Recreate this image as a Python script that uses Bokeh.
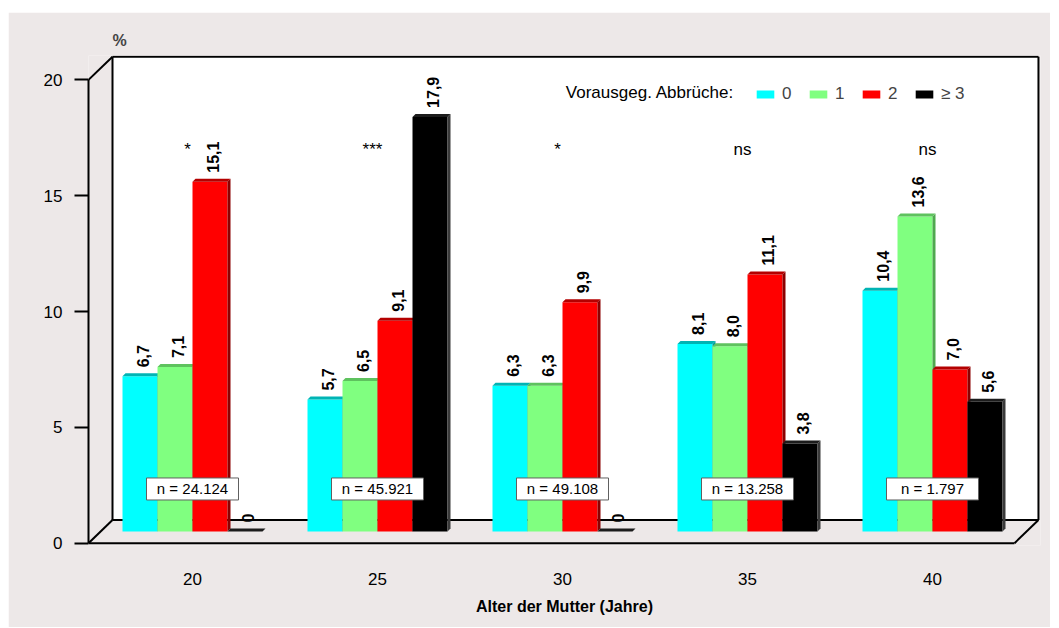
import math
from bokeh.plotting import figure
from bokeh.models import FixedTicker, Legend, LegendItem, Label, Range1d
from bokeh.core.properties import value
from bokeh.embed import file_html
from bokeh.resources import INLINE

# ---------------- data ----------------
ages = ["20", "25", "30", "35", "40"]
series = ["0", "1", "2", "\u2265 3"]
pct_0 = [6.7, 5.7, 6.3, 8.1, 10.4]
pct_1 = [7.1, 6.5, 6.3, 8.0, 13.6]
pct_2 = [15.1, 9.1, 9.9, 11.1, 7.0]
pct_3 = [0.0, 17.9, 0.0, 3.8, 5.6]
n_labels = ["n = 24.124", "n = 45.921", "n = 49.108", "n = 13.258", "n = 1.797"]
significance = ["*", "***", "*", "ns", "ns"]
legend_title = "Vorausgeg. Abbr\u00fcche:"
y_ticks = [0, 5, 10, 15, 20]
x_title = "Alter der Mutter (Jahre)"
y_title = "%"

# ---------------- style / geometry ----------------
FONT = "Liberation Sans"
BG = "#ede8e8"
W, H = 1042, 615
PXG = 185.0            # px per group
PXY = 23.15            # px per percent
X0 = -0.5622
X1 = X0 + 952 / PXG
Y0, Y1 = -0.1, 21.05
DX = 24 / PXG          # depth offset of the box
DY = 1.0
XR = 4.443             # right end of front floor edge
BW = 35 / PXG          # bar width
BASE = 0.5             # bars stand at mid depth
FDX = 3 / PXG          # bar 3D face depth
FDY = 3 / PXY

front_col = ["#00ffff", "#80ff80", "#ff0000", "#000000"]
top_col = ["#00b4b4", "#5ec25e", "#b40000", "#1c1c1c"]
side_col = ["#009c9c", "#4fa84f", "#8c0000", "#3a3a3a"]

p = figure(width=W, height=H, x_range=Range1d(X0, X1), y_range=Range1d(Y0, Y1),
           output_backend="svg", toolbar_location=None, margin=(12, 9, 1, 8),
           min_border_left=80, min_border_right=10, min_border_top=43, min_border_bottom=82,
           background_fill_color=BG, border_fill_color=BG, outline_line_color=None)
p.grid.visible = False

# back wall
p.quad(left=[X0 + DX], right=[XR + DX], bottom=[DY], top=[20 + DY],
       fill_color="white", line_color=None)

# box edges
seg_x0 = [X0 + DX, X0 + DX, XR + DX, X0 + DX, X0, X0, X0, XR]
seg_y0 = [DY, 20 + DY, 20 + DY, DY, 20, 0, 0, 0]
seg_x1 = [X0 + DX, XR + DX, XR + DX, XR + DX, X0 + DX, X0 + DX, XR, XR + DX]
seg_y1 = [20 + DY, 20 + DY, DY, DY, 20 + DY, DY, 0, DY]
p.segment(x0=seg_x0, y0=seg_y0, x1=seg_x1, y1=seg_y1, line_color="black", line_width=2)

groups = list(range(len(ages)))
vals = [pct_0, pct_1, pct_2, pct_3]
front_renderers = []
for k in range(4):
    xs = [g + (k - 1.5) * BW for g in groups]
    tops = [BASE + v for v in vals[k]]
    r = p.vbar(x=xs, width=BW, bottom=BASE, top=tops, fill_color=front_col[k], line_color=None)
    front_renderers.append(r)
    xl = [x - BW / 2 for x in xs]
    xr = [x + BW / 2 for x in xs]
    p.patches(xs=[[b, b, b + FDX, b + FDX] for b in xr],
              ys=[[BASE, t, t + FDY, BASE + FDY] for t in tops],
              fill_color=side_col[k], line_color=None)
    p.patches(xs=[[a, a + FDX, b + FDX, b] for a, b in zip(xl, xr)],
              ys=[[t, t + FDY, t + FDY, t] for t in tops],
              fill_color=top_col[k], line_color=None)

# value labels
for k in range(4):
    xs = [g + (k - 1.5) * BW for g in groups]
    tops = [BASE + v for v in vals[k]]
    labels = ["0" if v == 0 else f"{v:.1f}".replace(".", ",") for v in vals[k]]
    p.text(x=xs, y=tops, text=labels, angle=math.pi / 2, text_align="left",
           text_baseline="middle", x_offset=3, y_offset=-9,
           text_font=value(FONT), text_font_style="bold", text_font_size="16px",
           text_color="black")

# significance markers
p.text(x=groups, y=[17.0] * len(groups), text=significance, text_align="center",
       text_baseline="middle", x_offset=-5, text_font=value(FONT), text_font_size="17px",
       text_color="black")

# n boxes
p.rect(x=groups, y=[2.34] * len(groups), width=92, height=22, width_units="screen",
       height_units="screen", fill_color="white", line_color="#606060", line_width=1)
p.text(x=groups, y=[2.34] * len(groups), text=n_labels, text_align="center",
       text_baseline="middle", text_font=value(FONT), text_font_size="15px",
       text_color="black")

# legend
legend = Legend(items=[LegendItem(label=s, renderers=[r]) for s, r in zip(series, front_renderers)],
                orientation="horizontal", location=(666, 441), glyph_width=22, glyph_height=10,
                label_standoff=6, spacing=5, padding=0, margin=0, border_line_alpha=0,
                background_fill_alpha=0, label_text_font=FONT, label_text_font_size="17px",
                label_width=20)
p.add_layout(legend)
p.add_layout(Label(x=2.018, y=19.47, text=legend_title, text_baseline="middle",
                   text_align="left", text_font=FONT, text_font_size="17px", text_color="black"))

# title "%"
p.title.text = y_title
p.title.text_font = FONT
p.title.text_font_style = "bold"
p.title.text_font_size = "16px"
p.title.align = "left"
p.title.offset = 24
p.title.standoff = 14

# y axis
p.yaxis.ticker = FixedTicker(ticks=y_ticks)
p.yaxis.bounds = (0, 20)
p.yaxis.axis_line_width = 2
p.yaxis.major_tick_line_width = 2
p.yaxis.major_tick_out = 14
p.yaxis.major_tick_in = 0
p.yaxis.minor_tick_line_color = None
p.yaxis.major_label_standoff = 12
p.yaxis.major_label_text_font = FONT
p.yaxis.major_label_text_font_size = "17px"
p.yaxis.major_label_text_color = "black"

# x axis
p.xaxis.ticker = FixedTicker(ticks=groups)
p.xaxis.major_label_overrides = {g: a for g, a in zip(groups, ages)}
p.xaxis.axis_line_color = None
p.xaxis.major_tick_line_color = None
p.xaxis.minor_tick_line_color = None
p.xaxis.major_tick_out = 0
p.xaxis.major_tick_in = 0
p.xaxis.major_label_standoff = 27
p.xaxis.major_label_text_font = FONT
p.xaxis.major_label_text_font_size = "17px"
p.xaxis.major_label_text_color = "black"
p.xaxis.axis_label = x_title
p.xaxis.axis_label_standoff = 10
p.xaxis.axis_label_text_font = FONT
p.xaxis.axis_label_text_font_style = "bold"
p.xaxis.axis_label_text_font_size = "16px"
p.xaxis.axis_label_text_color = "black"

open("out.html", "w").write(file_html(p, INLINE))
